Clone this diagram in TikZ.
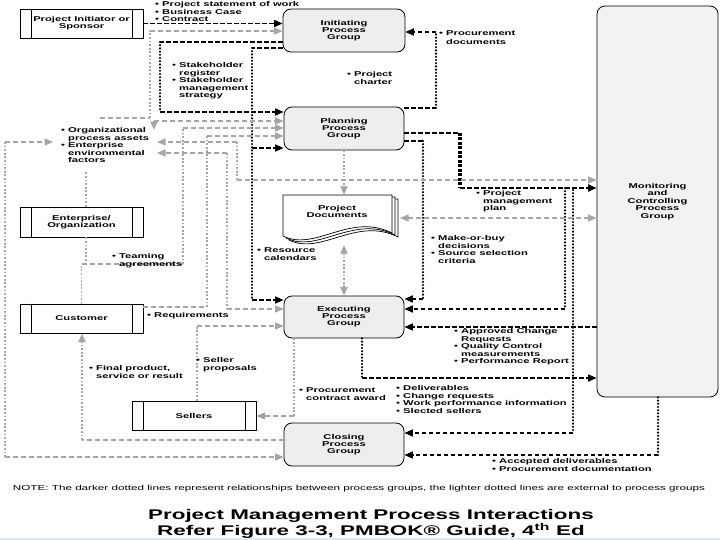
\documentclass[tikz,border=0pt]{standalone}
\usepackage{fontspec}
\setmainfont{Liberation Sans}
\newfontfamily\lbl[FakeStretch=1.6]{Liberation Sans}
\usetikzlibrary{arrows.meta}
\definecolor{lg}{HTML}{A6A6A6}
\definecolor{boxfill}{HTML}{EEEEEE}
\definecolor{mcfill}{HTML}{F2F2F2}
\definecolor{stripcol}{HTML}{DCEBF5}
\newcommand{\indt}{\phantom{•\ }}
\begin{document}
\begin{tikzpicture}[x=1pt,y=-1pt,
  pg/.style={draw=black, fill=boxfill, rounded corners=8pt, line width=0.8pt,
    minimum width=120pt, minimum height=43pt, inner sep=0pt, align=center,
    font=\lbl\bfseries\fontsize{7}{7}\selectfont},
  actor/.style={draw=black, fill=white, line width=0.8pt, minimum width=123pt,
    minimum height=29pt, inner sep=0pt, align=center,
    font=\lbl\bfseries\fontsize{7}{7}\selectfont},
  lab/.style={anchor=north west, inner sep=0pt, align=left,
    font=\lbl\bfseries\fontsize{7}{7.5}\selectfont},
  dh/.style={draw=black, line width=1.6pt, dash pattern=on 4.5pt off 2.5pt},
  dv/.style={draw=black, line width=2.4pt, line cap=round, dash pattern=on 0pt off 3.2pt},
  dthick/.style={draw=black, line width=3.2pt, dash pattern=on 3pt off 1.5pt},
  gh/.style={draw=lg, line width=1.4pt, dash pattern=on 5pt off 3pt},
  gv/.style={draw=lg, line width=1.9pt, dash pattern=on 1.8pt off 1.8pt},
  tip/.style={-{Triangle[length=8.5pt,width=7pt]}},
  tips/.style={{Triangle[length=8.5pt,width=7pt]}-{Triangle[length=8.5pt,width=7pt]}}
]
\useasboundingbox (0,0) rectangle (720,540);
\fill[white] (0,0) rectangle (720,540);
\fill[stripcol] (0,538) rectangle (720,540);

% ---------- process groups ----------
\node[pg, minimum width=122pt] (init) at (344,30.5) {Initiating\\Process\\Group};
\node[pg] (plan) at (344,128.5) {Planning\\Process\\Group};
\node[pg, minimum height=42pt] (exe) at (344,317) {Executing\\Process\\Group};
\node[pg] (clo) at (344,444.5) {Closing\\Process\\Group};
\node[pg, fill=mcfill, minimum width=121pt, minimum height=391pt,
      font=\lbl\bfseries\fontsize{7}{7.5}\selectfont] (mc) at (657.5,201.5)
      {Monitoring\\and\\Controlling\\Process\\Group};

% ---------- actors ----------
\node[actor] (sp) at (81.5,23.5) {Project Initiator or\\Sponsor};
\node[actor, minimum height=30pt] (ent) at (81.5,222) {Enterprise/\\Organization};
\node[actor] (cus) at (81.5,318.5) {Customer};
\node[actor, minimum width=124pt] (sel) at (194,415.5) {Sellers};
\foreach \n in {sp,ent,cus,sel}{
  \draw[line width=0.8pt] ([xshift=11.5pt]\n.north west) -- ([xshift=11.5pt]\n.south west);
  \draw[line width=0.8pt] ([xshift=-11.5pt]\n.north east) -- ([xshift=-11.5pt]\n.south east);
}

% ---------- project documents ----------
\foreach \dx/\dy in {6/4,3/2,0/0}{
  \draw[line width=0.7pt, fill=white, shift={(\dx,\dy)}]
    (283,195) -- (392,195) -- (392,233)
    .. controls (350,212) and (315,252) .. (283,236) -- cycle;
}
\node[inner sep=0pt, minimum width=109pt, minimum height=41pt] (docs) at (337.5,215.5) {};
\node[inner sep=0pt, align=center, font=\lbl\bfseries\fontsize{7}{7.2}\selectfont]
  (docstext) at (337,211.5) {Project\\Documents};

% ---------- dark connectors ----------
\draw[dh,tip] (sp.east) -- (init.west |- sp.east);

\coordinate (d2a) at (160,42); \coordinate (d2b) at (160,112);
\draw[dh] (init.west |- d2a) -- (d2a);
\draw[dv] (d2a) -- (d2b);
\draw[dh,tip] (d2b) -- (plan.west |- d2b);

\coordinate (d3a) at (252,48); \coordinate (d3b) at (252,300); \coordinate (d3c) at (252,148);
\draw[dh] (init.west |- d3a) -- (d3a);
\draw[dv] (d3a) -- (d3b);
\draw[dh,tip] (d3b) -- (exe.west |- d3b);
\draw[dh,tip] (d3c) -- (plan.west |- d3c);

\coordinate (d4a) at (436,108); \coordinate (d4b) at (436,32);
\draw[dh] (plan.east |- d4a) -- (d4a);
\draw[dv] (d4a) -- (d4b);
\draw[dh,tip] (d4b) -- (init.east |- d4b);

\coordinate (d5a) at (460,133); \coordinate (d5b) at (460,188);
\draw[dh, line width=2.2pt] (plan.east |- d5a) -- (d5a);
\draw[dthick] (d5a) -- (d5b);
\draw[dh, line width=1.9pt, tip] (d5b) -- (mc.west |- d5b);
\coordinate (d5c) at (565,188); \coordinate (d5d) at (565,309);
\draw[dv] (d5c) -- (d5d);
\draw[dh,tip] (d5d) -- (exe.east |- d5d);
\coordinate (d5e) at (573,190); \coordinate (d5f) at (573,433);
\draw[dv] (d5e) -- (d5f);
\draw[dh,tip] (d5f) -- (clo.east |- d5f);

\coordinate (d6a) at (423,141); \coordinate (d6b) at (423,299);
\draw[dh] (plan.east |- d6a) -- (d6a);
\draw[dv] (d6a) -- (d6b);
\draw[dh,tip] (d6b) -- (exe.east |- d6b);

\coordinate (d7) at (500,327);
\draw[dh,tip] (mc.west |- d7) -- (exe.east |- d7);

\coordinate (d8a) at (362,378);
\draw[dv] (exe.south -| d8a) -- (d8a);
\draw[dh,tip] (d8a) -- (mc.west |- d8a);

\coordinate (d9a) at (658,455);
\draw[dv] (mc.south -| d9a) -- (d9a);
\draw[dh,tip] (d9a) -- (clo.east |- d9a);

% ---------- light connectors ----------
\coordinate (g1a) at (100,118); \coordinate (g1b) at (150,118); \coordinate (g1c) at (150,31);
\draw[gh] (g1a) -- (g1b);
\draw[gv] (g1b) -- (g1c);
\draw[gh,tip] (g1c) -- (init.west |- g1c);

\coordinate (g2a) at (154,130); \coordinate (g2b) at (154,121);
\draw[gv,tip] (g2b) -- (g2a);
\draw[gh,tip] (g2b) -- (plan.west |- g2b);

\coordinate (g3a) at (86,264); \coordinate (g3b) at (183,264); \coordinate (g3c) at (183,128);
\coordinate (g3d) at (81.5,264);
\draw[gv] (ent.south -| g3a) -- (g3a);
\draw[gv] (cus.north) -- (g3d);
\draw[gh] (g3d) -- (g3b);
\draw[gv] (g3b) -- (g3c);
\draw[gh,tip] (g3c) -- (plan.west |- g3c);

\coordinate (g4a) at (207,307); \coordinate (g4b) at (207,136);
\draw[gh] (cus.east |- g4a) -- (g4a);
\draw[gv] (g4a) -- (g4b);
\draw[gh,tip] (g4b) -- (plan.west |- g4b);

\coordinate (g5o) at (157,142); \coordinate (g5a) at (237,142); \coordinate (g5b) at (237,180);
\draw[gh,tip] (g5a) -- (g5o);
\draw[gv] (g5a) -- (g5b);
\draw[gh,tip] (g5b) -- (mc.west |- g5b);

\coordinate (g6o) at (157,153); \coordinate (g6a) at (227,153); \coordinate (g6b) at (227,309);
\draw[gh,tip] (g6a) -- (g6o);
\draw[gv] (g6a) -- (g6b);
\draw[gh,tip] (g6b) -- (exe.west |- g6b);

\coordinate (g7a) at (197,326);
\draw[gv] (sel.north -| g7a) -- (g7a);
\draw[gh,tip] (g7a) -- (exe.west |- g7a);

\coordinate (g8a) at (294,416);
\draw[gv] (exe.south -| g8a) -- (g8a);
\draw[gh,tip] (g8a) -- (sel.east |- g8a);

\coordinate (g9a) at (82,440);
\draw[gh] (clo.west |- g9a) -- (g9a);
\draw[gv,tip] (g9a) -- (cus.south -| g9a);

\coordinate (g10o) at (53,142); \coordinate (g10a) at (5,142); \coordinate (g10b) at (5,457);
\draw[gh,tip] (g10a) -- (g10o);
\draw[gv] (g10a) -- (g10b);
\draw[gh,tip] (g10b) -- (clo.west |- g10b);

\coordinate (g11a) at (86,172);
\draw[gv] (ent.north -| g11a) -- (g11a);

\draw[gv,tip] (plan.south) -- (plan.south |- docs.north);
\coordinate (g13a) at (344,245);
\draw[gv,tips] (g13a) -- (exe.north);
\coordinate (g14a) at (400,218);
\draw[gh,tips] (g14a) -- (mc.west |- g14a);

% ---------- labels ----------
\node[lab] (lsow) at (155,1.5) {• Project statement of work\\• Business Case\\• Contract};
\node[lab, font=\lbl\bfseries\fontsize{7}{8.5}\selectfont] (lprocdoc) at (439,30.5) {• Procurement\\\indt documents};
\node[lab] (lstake) at (172,62.5) {• Stakeholder\\\indt register\\• Stakeholder\\\indt management\\\indt strategy};
\node[lab] (lcharter) at (347,71.5) {• Project\\\indt charter};
\node[lab] (opa) at (61,127.5) {• Organizational\\\indt process assets\\• Enterprise\\\indt environmental\\\indt factors};
\node[lab] (lteam) at (112,253.5) {• Teaming\\\indt agreements};
\node[lab] (lres) at (257,247.5) {• Resource\\\indt calendars};
\node[lab] (lpmp) at (476,190.5) {• Project\\\indt management\\\indt plan};
\node[lab] (lmob) at (431,235.5) {• Make-or-buy\\\indt decisions\\• Source selection\\\indt criteria};
\node[lab] (lreq) at (147,312.5) {• Requirements};
\node[lab] (lsprop) at (196,357.5) {• Seller\\\indt proposals};
\node[lab] (lfinal) at (89,365.5) {• Final product,\\\indt service or result};
\node[lab] (lpca) at (299,387.5) {• Procurement\\\indt contract award};
\node[lab] (ldeliv) at (396,385.5) {• Deliverables\\• Change requests\\• Work performance information\\• Slected sellers};
\node[lab] (lacr) at (454,328.5) {• Approved Change\\\indt Requests\\• Quality Control\\\indt measurements\\• Performance Report};
\node[lab] (lacc) at (492,458.5) {• Accepted deliverables\\• Procurement documentation};

\node[inner sep=0pt, font=\lbl\fontsize{7.3}{8}\selectfont] (note) at (359,489)
  {NOTE: The darker dotted lines represent relationships between process groups, the lighter dotted lines are external to process groups};
\node[inner sep=0pt, align=center, font=\lbl\bfseries\fontsize{14}{15.5}\selectfont] (title) at (371,524)
  {Project Management Process Interactions\\Refer Figure 3-3, PMBOK® Guide, 4\textsuperscript{th} Ed};
\end{tikzpicture}
\end{document}
